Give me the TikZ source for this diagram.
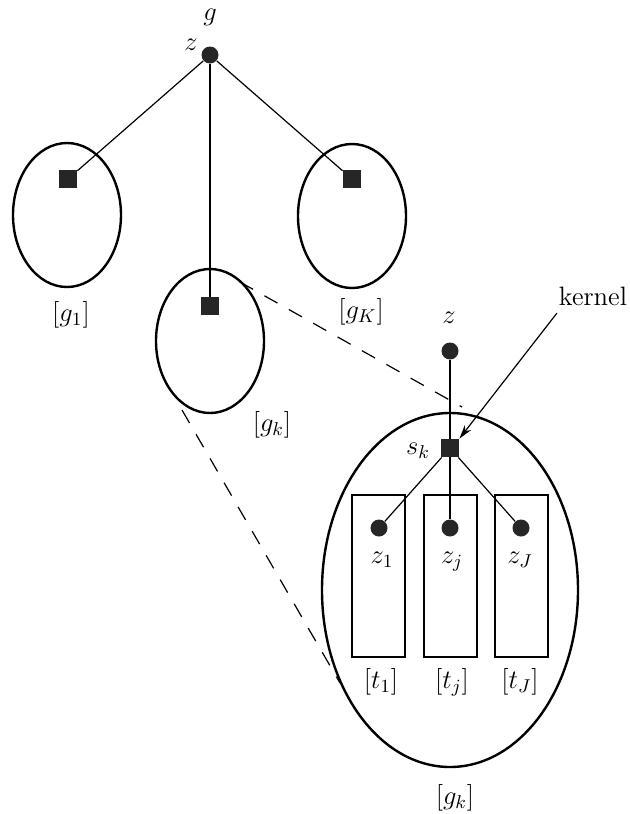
\RequirePackage{fix-cm}
\documentclass[tikz,border=0pt]{standalone}
\usetikzlibrary{shapes.geometric,arrows.meta}
\begin{document}
\begin{tikzpicture}[x=0.5pt,y=-0.5pt,
  txt/.style={inner sep=0pt,font=\fontsize{13.3}{16}\selectfont},
  gellipse/.style={draw,ellipse,line width=1.2pt,inner sep=0pt,minimum width=54pt,minimum height=72pt},
  bigellipse/.style={gellipse,minimum width=128pt,minimum height=177pt},
  termbox/.style={draw,rectangle,line width=1pt,inner sep=0pt,minimum width=26.5pt,minimum height=81pt},
  vardot/.style={circle,fill=black!85,inner sep=0pt,minimum size=8.5pt},
  facsq/.style={rectangle,fill=black!85,inner sep=0pt,minimum size=9pt},
  edgeline/.style={line width=0.6pt},
  zoomline/.style={line width=0.6pt,dash pattern=on 7.5pt off 6.5pt}]
\useasboundingbox (0,0) rectangle (630,814);

% clusters of the top level
\node[gellipse] (G1) at (67,215) {};
\node[gellipse] (Gk) at (210,341) {};
\node[gellipse] (GK) at (352,216) {};

% expanded cluster and its tasks
\node[bigellipse] (B) at (450,590) {};
\node[termbox] (T1) at (378.5,576) {};
\node[termbox] (T2) at (450,576) {};
\node[termbox] (T3) at (521,576) {};

% variables and factors
\node[vardot] (z0) at (210,55) {};
\node[facsq] (f1) at (68,179) {};
\node[facsq] (fk) at (210,306) {};
\node[facsq] (fK) at (352,179) {};
\node[vardot] (z2) at (450,351) {};
\node[facsq] (sk) at (450,448) {};
\node[vardot] (y1) at (379,528) {};
\node[vardot] (yj) at (450,528) {};
\node[vardot] (yJ) at (521,528) {};

% edges
\draw[edgeline] (z0) -- (f1);
\draw[edgeline] (z0) -- (fk);
\draw[edgeline] (z0) -- (fK);
\draw[edgeline] (z2) -- (sk);
\draw[edgeline] (sk) -- (yj);
\draw[edgeline] (sk) -- (y1);
\draw[edgeline] (sk) -- (yJ);

% zoom lines from the small cluster to its expansion
\coordinate (d1) at (240,282);
\coordinate (d2) at (462,407);
\coordinate (d3) at (182,410);
\coordinate (d4) at (340,683);
\draw[zoomline] (d1) -- (d2);
\draw[zoomline] (d3) -- (d4);

% kernel pointer
\node[txt] (kern) at (593,296) {kernel};
\coordinate (kt) at (557,313);
\draw[edgeline,-{Stealth[length=7pt,width=4pt]}] (kt) -- (sk.north east);

% labels
\node[txt] (lg) at (210,17) {$g$};
\node[txt] (lz0) at (191,45) {$z$};
\node[txt] (lg1) at (71,315) {$[g_1]$};
\node[txt] (lgK) at (361,312) {$[g_K]$};
\node[txt] (lgk) at (272,425) {$[g_k]$};
\node[txt] (lz2) at (449,318) {$z$};
\node[txt] (lsk) at (418,451) {$s_k$};
\node[txt] (ly1) at (382,560) {$z_1$};
\node[txt] (lyj) at (452,562) {$z_j$};
\node[txt] (lyJ) at (520,560) {$z_J$};
\node[txt] (lt1) at (381,682) {$[t_1]$};
\node[txt] (ltj) at (452,682) {$[t_j]$};
\node[txt] (ltJ) at (520,682) {$[t_J]$};
\node[txt] (lB) at (455,798) {$[g_k]$};
\end{tikzpicture}
\end{document}
